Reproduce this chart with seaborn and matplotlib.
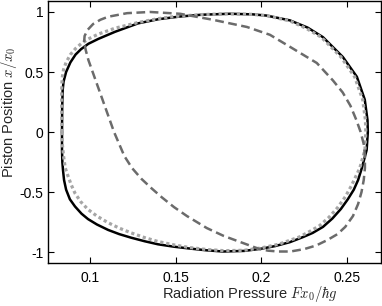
import numpy as np
import matplotlib
matplotlib.use("Agg")
import matplotlib.pyplot as plt
import seaborn as sns

# ---- data (closed loops) ----
# solid black loop
solid_F = [0.0836, 0.0837, 0.0840, 0.0845, 0.0860, 0.0885, 0.0915, 0.0947, 0.0990, 0.1047,
           0.1146, 0.1280, 0.1400, 0.1525, 0.1650, 0.1817, 0.1950, 0.2030, 0.2167, 0.2270,
           0.2360, 0.2476, 0.2558, 0.2604, 0.2620, 0.2622, 0.2615, 0.2587, 0.2565, 0.2540,
           0.2505, 0.2465, 0.2415, 0.2360, 0.2300, 0.2243, 0.2167, 0.2080, 0.1998, 0.1900,
           0.1776, 0.1680, 0.1580, 0.1490, 0.1397, 0.1320, 0.1240, 0.1170, 0.1105, 0.1040,
           0.0988, 0.0950, 0.0912, 0.0882, 0.0860, 0.0848, 0.0842, 0.0838, 0.0836, 0.0836]
solid_x = [0.00, 0.20, 0.35, 0.42, 0.50, 0.58, 0.645, 0.69, 0.735, 0.775,
           0.835, 0.905, 0.94, 0.962, 0.977, 0.985, 0.98, 0.97, 0.93, 0.87,
           0.79, 0.625, 0.46, 0.27, 0.10, 0.00, -0.15, -0.30, -0.40, -0.48,
           -0.56, -0.64, -0.72, -0.79, -0.84, -0.875, -0.917, -0.95, -0.972, -0.99,
           -0.995, -0.985, -0.97, -0.955, -0.935, -0.91, -0.88, -0.85, -0.815, -0.77,
           -0.725, -0.68, -0.62, -0.56, -0.48, -0.40, -0.32, -0.25, -0.15, 0.00]

# dotted light grey loop
dotted_F = [0.0836, 0.0834, 0.0834, 0.0837, 0.0845, 0.0860, 0.0885, 0.0915, 0.0947, 0.0990,
            0.1047, 0.1146, 0.1280, 0.1400, 0.1500, 0.1650, 0.1800, 0.1950, 0.2030, 0.2167,
            0.2260, 0.2350, 0.2465, 0.2545, 0.2592, 0.2608, 0.2610, 0.2605, 0.2575, 0.2525,
            0.2490, 0.2445, 0.2395, 0.2340, 0.2280, 0.2220, 0.2100, 0.2000, 0.1900, 0.1780,
            0.1680, 0.1580, 0.1490, 0.1397, 0.1320, 0.1240, 0.1170, 0.1105, 0.1040, 0.0988,
            0.0945, 0.0912, 0.0890, 0.0872, 0.0855, 0.0845, 0.0838, 0.0836]
dotted_x = [0.00, 0.20, 0.35, 0.45, 0.52, 0.58, 0.645, 0.695, 0.735, 0.775,
            0.815, 0.865, 0.912, 0.945, 0.963, 0.978, 0.985, 0.98, 0.97, 0.925,
            0.865, 0.79, 0.625, 0.46, 0.27, 0.10, 0.00, -0.15, -0.30, -0.45,
            -0.54, -0.63, -0.71, -0.78, -0.83, -0.875, -0.935, -0.965, -0.985, -0.988,
            -0.978, -0.962, -0.94, -0.912, -0.88, -0.84, -0.80, -0.755, -0.70, -0.645,
            -0.58, -0.51, -0.44, -0.37, -0.30, -0.20, -0.10, 0.00]

# dashed dark grey loop
dashed_F = [0.0965, 0.0968, 0.0985, 0.1018, 0.1060, 0.1105, 0.1216, 0.1350, 0.1525, 0.1717,
            0.1916, 0.2050, 0.2167, 0.2324, 0.2418, 0.2475, 0.2520, 0.2555, 0.2580, 0.2598,
            0.2605, 0.2605, 0.2598, 0.2585, 0.2565, 0.2535, 0.2490, 0.2445, 0.2385, 0.2320,
            0.2250, 0.2170, 0.2100, 0.2040, 0.1990, 0.1875, 0.1780, 0.1682, 0.1566, 0.1490,
            0.1420, 0.1360, 0.1300, 0.1245, 0.1200, 0.1170, 0.1140, 0.1115, 0.1090, 0.1065,
            0.1040, 0.1015, 0.0990, 0.0975, 0.0965]
dashed_x = [0.75, 0.80, 0.85, 0.90, 0.935, 0.96, 0.99, 1.00, 0.985, 0.935,
            0.875, 0.81, 0.71, 0.575, 0.43, 0.33, 0.22, 0.10, 0.00, -0.10,
            -0.20, -0.30, -0.40, -0.50, -0.60, -0.70, -0.79, -0.85, -0.90, -0.945,
            -0.975, -0.995, -0.995, -0.988, -0.975, -0.915, -0.865, -0.80, -0.70, -0.625,
            -0.545, -0.47, -0.39, -0.30, -0.20, -0.10, 0.00, 0.10, 0.20, 0.30,
            0.40, 0.50, 0.60, 0.68, 0.75]

x_ticks = [0.1, 0.15, 0.2, 0.25]
x_ticklabels = ['0.1', '0.15', '0.2', '0.25']
y_ticks = [-1, -0.5, 0, 0.5, 1]
y_ticklabels = ['-1', '-0.5', '0', '0.5', '1']

# ---- style ----
sns.set_style("ticks")
plt.rcParams['font.family'] = ['Liberation Sans', 'DejaVu Sans']
plt.rcParams['mathtext.fontset'] = 'cm'

fig, ax = plt.subplots(figsize=(3.82, 3.06), dpi=100)
fig.subplots_adjust(left=0.126, right=0.997, bottom=0.14, top=0.997)

sns.lineplot(x=solid_F, y=solid_x, sort=False, estimator=None,
             color='black', lw=1.8, ax=ax)
sns.lineplot(x=dotted_F, y=dotted_x, sort=False, estimator=None,
             color='#a6a6a6', lw=2.3, linestyle=(0, (1, 0.9)), ax=ax)
sns.lineplot(x=dashed_F, y=dashed_x, sort=False, estimator=None,
             color='#6b6b6b', lw=1.8, linestyle=(0, (3.5, 1.8)), ax=ax)

ax.set_xlim(0.0755, 0.2698)
ax.set_ylim(-1.092, 1.092)
ax.set_xticks(x_ticks)
ax.set_xticklabels(x_ticklabels)
ax.set_yticks(y_ticks)
ax.set_yticklabels(y_ticklabels)
ax.tick_params(direction='in', top=True, right=True, length=4, width=0.8,
               labelsize=10, colors='black')
ax.tick_params(axis='x', pad=6)
for s in ax.spines.values():
    s.set_linewidth(1.0)
    s.set_color('black')

ax.set_xlabel(r'Radiation Pressure $Fx_0/\hbar g$', fontsize=10.5)
ax.set_ylabel(r'Piston Position $x/x_0$', fontsize=10.5)
ax.xaxis.set_label_coords(0.607, -0.08)
ax.yaxis.set_label_coords(-0.088, 0.575)

fig.savefig('out.png', dpi=100)
